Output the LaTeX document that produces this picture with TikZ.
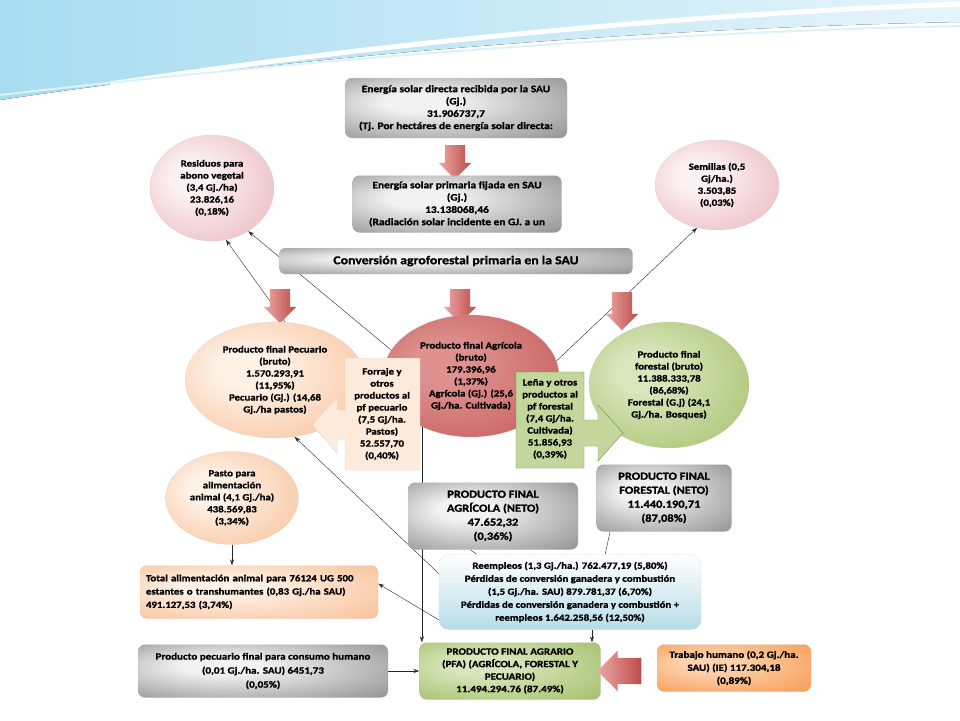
\documentclass[tikz,border=0pt]{standalone}
\usepackage{fontspec}
\setmainfont{Carlito}[FakeStretch=1.15, BoldFeatures={FakeBold=1.4}]
\usetikzlibrary{shapes.geometric,shapes.arrows,arrows.meta,backgrounds}

\definecolor{rosa}{HTML}{E3A3AC}
\definecolor{rosaclaro}{HTML}{FCF1F2}
\definecolor{melocoton}{HTML}{F6B17F}
\definecolor{melocotonclaro}{HTML}{FEF1E6}
\definecolor{rojo}{HTML}{BE4B48}
\definecolor{rojoclaro}{HTML}{EBA9A7}
\definecolor{rojomedio}{HTML}{DE918F}
\definecolor{verde}{HTML}{93B450}
\definecolor{verdeclaro}{HTML}{D8E6BC}
\definecolor{verdelena}{HTML}{C3D69B}
\definecolor{crema}{HTML}{FDEADA}
\definecolor{celeste}{HTML}{B7DDE8}
\definecolor{naranja}{HTML}{F68A38}
\definecolor{naranjaclaro}{HTML}{FCD3AE}
\definecolor{gris}{HTML}{747474}
\definecolor{grisclaro}{HTML}{F2F2F2}
\definecolor{ola}{HTML}{A8DCF1}

% sombreados radiales (centro claro, borde oscuro)
\newcommand{\brillo}[3]{\pgfdeclareradialshading{#1}{\pgfpoint{-10bp}{6bp}}%
  {color(0bp)=(#2); color(8bp)=(#2); color(48bp)=(#3); color(50bp)=(#3)}}
\brillo{sgris}{grisclaro}{gris}
\brillo{srosa}{rosaclaro}{rosa}
\brillo{smelocoton}{melocotonclaro}{melocoton}
\brillo{srojo}{rojomedio}{rojo}
\brillo{sverde}{verdeclaro}{verde}
\brillo{snaranja}{naranjaclaro}{naranja}

\tikzset{
  texto/.style={align=center, font=\bfseries\fontsize{9.4}{12}\selectfont},
  caja/.style={texto, rectangle, rounded corners=7pt, draw=gray!60, densely dotted, inner sep=2pt},
  cajagris/.style={caja, shading=sgris},
  elipse/.style={texto, ellipse, inner sep=-2pt, draw=gray!50, densely dotted},
  flecha/.style={-{Stealth[length=6pt,width=4pt]}, thin, solid, black!85},
  linea/.style={thin, solid, black!85},
  bloque/.style={single arrow, draw=none, inner xsep=0pt, inner ysep=10pt,
    single arrow head extend=6pt, single arrow head indent=0pt,
    left color=rojoclaro, right color=rojo},
}

\begin{document}
\begin{tikzpicture}[x=1pt,y=-1pt]
  \useasboundingbox (0,0) rectangle (960,720);

  % Fondo y ola superior
  \begin{pgfonlayer}{background}
    \fill[white] (0,0) rectangle (960,720);
    \fill[left color=ola, right color=ola!30] (0,0) -- (960,0) -- (960,22)
      .. controls (650,28) and (300,55) .. (0,100) -- cycle;
    \draw[white, line width=5pt] (110,84) .. controls (400,40) and (700,14) .. (960,4);
    \draw[white!60!ola, line width=2pt] (0,95) .. controls (300,60) and (650,32) .. (960,26);
  \end{pgfonlayer}

  % Energia solar
  \node[cajagris, minimum width=222pt, minimum height=60pt,
        font=\bfseries\fontsize{9.9}{12.3}\selectfont] (directa) at (456,108)
    {Energía solar directa recibida por la SAU\\(Gj.)\\31.906737,7\\(Tj. Por hectáres de energía solar directa:};
  \node[bloque, rotate=-90, minimum height=34pt] (baja0) at (455,157) {};
  \node[cajagris, minimum width=209pt, minimum height=57pt,
        font=\bfseries\fontsize{9.9}{12.3}\selectfont] (fijada) at (457,204)
    {Energía solar primaria fijada en SAU\\(Gj.)\\13.138068,46\\(Radiación solar incidente en GJ. a un};

  % Residuos y semillas
  \node[elipse, minimum width=124pt, minimum height=106pt, shading=srosa] (residuos) at (212,188)
    {Residuos para\\abono vegetal\\(3,4 Gj./ha)\\23.826,16\\(0,18\%)};
  \node[elipse, minimum width=124pt, minimum height=90pt, shading=srosa] (semillas) at (717,185)
    {Semillas (0,5\\Gj/ha.)\\3.503,85\\(0,03\%)};

  % Conversion agroforestal
  \node[cajagris, minimum width=353pt, minimum height=26pt, rounded corners=5pt,
        font=\bfseries\fontsize{12}{13}\selectfont] (conversion) at (456,261)
    {Conversión agroforestal primaria en la SAU};
  \node[bloque, rotate=-90, minimum height=34pt] (baja1) at (280,301) {};
  \node[bloque, rotate=-90, minimum height=34pt] (baja2) at (460,301) {};
  \node[bloque, rotate=-90, minimum height=38pt] (baja3) at (622,306) {};

  % Productos finales brutos
  \node[elipse, minimum width=180pt, minimum height=116pt, shading=smelocoton] (pecuario) at (275,380)
    {Producto final Pecuario\\(bruto)\\1.570.293,91\\(11,95\%)\\Pecuario (Gj.) (14,68\\Gj./ha pastos)};
  \node[elipse, minimum width=176pt, minimum height=122pt, shading=srojo] (agricola) at (471,376)
    {Producto final Agrícola\\(bruto)\\179.396,96\\(1,37\%)\\Agrícola (Gj.) (25,6\\Gj./ha. Cultivada)};
  \node[elipse, minimum width=160pt, minimum height=126pt, shading=sverde] (forestal) at (669,385)
    {Producto final\\forestal (bruto)\\11.388.333,78\\(86,68\%)\\Forestal (G.j) (24,1\\Gj./ha. Bosques)};

  % Forraje (flecha a la izquierda)
  \draw[fill=crema, draw=gray!60, densely dotted] (345,358) -- (420,358) -- (420,470)
    -- (345,470) -- (345,440) -- (337,440) -- (337,453) -- (312,425) -- (337,397)
    -- (337,410) -- (345,410) -- cycle;
  \node[texto] (forraje) at (382,414)
    {Forraje y\\otros\\productos al\\pf pecuario\\(7,5 Gj/ha.\\Pastos)\\52.557,70\\(0,40\%)};

  % Lena (flecha a la derecha)
  \draw[fill=verdelena, draw=verde!80!black] (516,372) -- (584,372) -- (584,420)
    -- (598,420) -- (598,405) -- (623,433) -- (598,461) -- (598,446) -- (584,446)
    -- (584,468) -- (516,468) -- cycle;
  \node[texto] (lena) at (550,419)
    {Leña y otros\\productos al\\pf forestal\\(7,4 Gj/ha.\\Cultivada)\\51.856,93\\(0,39\%)};

  % Pasto
  \node[elipse, minimum width=133pt, minimum height=93pt, shading=smelocoton] (pasto) at (232,498)
    {Pasto para\\alimentación\\animal (4,1 Gj./ha)\\438.569,83\\(3,34\%)};

  % Productos finales netos
  \node[cajagris, minimum width=170pt, minimum height=67pt,
        font=\bfseries\fontsize{10.8}{14}\selectfont] (agrineto) at (493,516)
    {PRODUCTO FINAL\\AGRÍCOLA (NETO)\\47.652,32\\(0,36\%)};
  \node[cajagris, minimum width=135pt, minimum height=67pt,
        font=\bfseries\fontsize{10.8}{14}\selectfont] (forneto) at (664,498)
    {PRODUCTO FINAL\\FORESTAL (NETO)\\11.440.190,71\\(87,08\%)};

  % Reempleos y perdidas
  \node[caja, minimum width=262pt, minimum height=75pt, rounded corners=10pt,
        top color=white, bottom color=celeste,
        font=\bfseries\fontsize{9.4}{13}\selectfont] (reempleos) at (570,592)
    {Reempleos (1,3 Gj./ha.) 762.477,19 (5,80\%)\\Pérdidas de conversión ganadera y combustión\\(1,5 Gj./ha. SAU) 879.781,37 (6,70\%)\\Pérdidas de conversión ganadera y combustión +\\reempleos 1.642.258,56 (12,50\%)};

  % Alimentacion animal
  \node[caja, align=left, minimum width=238pt, minimum height=53pt, text width=226pt,
        shading=smelocoton,
        font=\bfseries\fontsize{9.4}{13.3}\selectfont] (total) at (259,592)
    {Total alimentación animal para 76124 UG 500\\estantes o transhumantes (0,83 Gj./ha SAU)\\491.127,53 (3,74\%)};

  % Fila inferior
  \node[cajagris, minimum width=250pt, minimum height=53pt,
        font=\bfseries\fontsize{9.6}{14}\selectfont] (pecfinal) at (263,671)
    {Producto pecuario final para consumo humano\\(0,01 Gj./ha. SAU) 6451,73\\(0,05\%)};
  \node[caja, minimum width=181pt, minimum height=57pt, shading=sverde,
        font=\bfseries\fontsize{9.6}{12.5}\selectfont] (pfa) at (510,671)
    {PRODUCTO FINAL AGRARIO\\(PFA) (AGRÍCOLA, FORESTAL Y\\PECUARIO)\\11.494.294.76 (87.49\%)};
  \node[caja, minimum width=154pt, minimum height=47pt, shading=snaranja,
        font=\bfseries\fontsize{9.6}{13}\selectfont] (trabajo) at (734,668)
    {Trabajo humano (0,2 Gj./ha.\\SAU) (IE) 117.304,18\\(0,89\%)};
  \node[bloque, rotate=180, minimum height=44pt, inner ysep=13pt,
        single arrow head extend=7pt] (entra) at (626,671) {};

  % Conectores
  \begin{pgfonlayer}{background}
    \draw[flecha] (agricola.162) -- (residuos.-50);
    \draw[flecha] (pecuario.80) -- (residuos.-75);
    \draw[flecha] (agricola.10) -- (semillas.-115);
    \draw[flecha] (reempleos.172) -- (pecuario.-71);
    \draw[flecha] (reempleos.192) -- (total.4);
    \draw[flecha] (pasto.south) -- (pasto.south |- total.north);
    \draw[flecha] (agricola.-134) -- (agricola.-134 |- pfa.north);
    \draw[linea] (agrineto.-124) -- (reempleos.158);
    \draw[linea] (forneto.-148) -- (reempleos.47);
    \draw[flecha] ([xshift=22pt]reempleos.south) -- ([xshift=22pt]reempleos.south |- pfa.north);
    \draw[flecha] (pecfinal.east) -- (pecfinal.east -| pfa.west);
  \end{pgfonlayer}
\end{tikzpicture}
\end{document}
